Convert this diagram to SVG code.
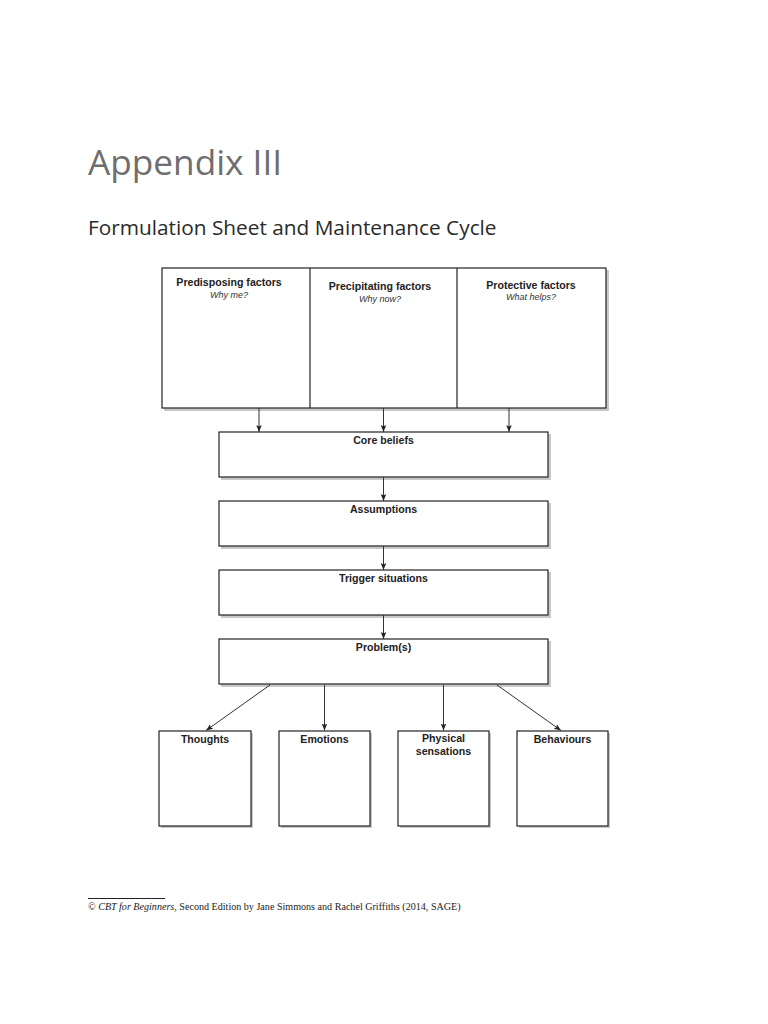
<svg xmlns="http://www.w3.org/2000/svg" width="768" height="1024" viewBox="0 0 768 1024">
<style>
.box{fill:#fff;stroke:#222;stroke-width:1.2}
.sh{fill:#c8c8c8}
.lbl{font-family:"Liberation Sans",Arial,sans-serif;font-weight:bold;font-size:10.6px;fill:#222;text-anchor:middle}
.sub{font-family:"Liberation Sans",Arial,sans-serif;font-style:italic;font-size:9px;fill:#333;text-anchor:middle}
.con{stroke:#333;stroke-width:1;fill:none;marker-end:url(#ah)}
</style>
<defs>
<marker id="ah" markerWidth="8" markerHeight="8" refX="7" refY="4" orient="auto" markerUnits="userSpaceOnUse">
<path d="M0,1.2 L7,4 L0,6.8 L1.5,4 Z" fill="#222"/>
</marker>
</defs>
<rect width="768" height="1024" fill="#fff"/>
<text x="88" y="175" font-family="'Open Sans','Noto Sans',sans-serif" font-size="35.2" fill="#6e6e6e">Appendix III</text>
<text x="88" y="235" font-family="'Open Sans','Noto Sans',sans-serif" font-size="20.8" fill="#2a2a2a">Formulation Sheet and Maintenance Cycle</text>

<g id="factors">
<rect class="sh" x="164" y="270" width="445" height="141"/>
<rect class="box" x="162" y="268" width="444" height="140"/>
<line x1="310" y1="268" x2="310" y2="408" stroke="#222" stroke-width="1.2"/>
<line x1="457" y1="268" x2="457" y2="408" stroke="#222" stroke-width="1.2"/>
</g>
<g id="predisposing">
<text class="lbl" x="229" y="286">Predisposing factors</text>
<text class="sub" x="229" y="298">Why me?</text>
</g>
<g id="precipitating">
<text class="lbl" x="380" y="290">Precipitating factors</text>
<text class="sub" x="380" y="302">Why now?</text>
</g>
<g id="protective">
<text class="lbl" x="531" y="289">Protective factors</text>
<text class="sub" x="531" y="300">What helps?</text>
</g>

<g id="core-beliefs">
<rect class="sh" x="221" y="434" width="330" height="46"/>
<rect class="box" x="219" y="432" width="329" height="45"/>
<text class="lbl" x="383.5" y="444">Core beliefs</text>
</g>
<g id="assumptions">
<rect class="sh" x="221" y="503" width="330" height="46"/>
<rect class="box" x="219" y="501" width="329" height="45"/>
<text class="lbl" x="383.5" y="513">Assumptions</text>
</g>
<g id="trigger">
<rect class="sh" x="221" y="572" width="330" height="46"/>
<rect class="box" x="219" y="570" width="329" height="45"/>
<text class="lbl" x="383.5" y="582">Trigger situations</text>
</g>
<g id="problems">
<rect class="sh" x="221" y="641" width="330" height="46"/>
<rect class="box" x="219" y="639" width="329" height="45"/>
<text class="lbl" x="383.5" y="651">Problem(s)</text>
</g>

<g id="thoughts">
<rect class="sh" x="161" y="733" width="92" height="95"/>
<rect class="box" x="159" y="731" width="92" height="95"/>
<text class="lbl" x="205" y="743">Thoughts</text>
</g>
<g id="emotions">
<rect class="sh" x="281" y="733" width="91" height="95"/>
<rect class="box" x="279" y="731" width="91" height="95"/>
<text class="lbl" x="324.5" y="743">Emotions</text>
</g>
<g id="physical">
<rect class="sh" x="400" y="733" width="91" height="95"/>
<rect class="box" x="398" y="731" width="91" height="95"/>
<text class="lbl" x="443.5" y="742">Physical</text>
<text class="lbl" x="443.5" y="755">sensations</text>
</g>
<g id="behaviours">
<rect class="sh" x="519" y="733" width="91" height="95"/>
<rect class="box" x="517" y="731" width="91" height="95"/>
<text class="lbl" x="562.5" y="743">Behaviours</text>
</g>

<g id="connectors">
<line class="con" x1="259" y1="408" x2="259" y2="432"/>
<line class="con" x1="383.5" y1="408" x2="383.5" y2="432"/>
<line class="con" x1="509" y1="408" x2="509" y2="432"/>
<line class="con" x1="383.5" y1="477" x2="383.5" y2="501"/>
<line class="con" x1="383.5" y1="546" x2="383.5" y2="570"/>
<line class="con" x1="383.5" y1="615" x2="383.5" y2="639"/>
<line class="con" x1="270" y1="685" x2="206" y2="730.5"/>
<line class="con" x1="324.5" y1="685" x2="324.5" y2="730.5"/>
<line class="con" x1="443.5" y1="685" x2="443.5" y2="730.5"/>
<line class="con" x1="497" y1="685" x2="561" y2="730.5"/>
</g>

<g id="footer">
<line x1="88" y1="898.5" x2="165" y2="898.5" stroke="#222" stroke-width="1"/>
<text x="88" y="910" font-family="'Liberation Serif','Times New Roman',serif" font-size="10.1" fill="#222">© <tspan font-style="italic">CBT for Beginners</tspan>, Second Edition by Jane Simmons and Rachel Griffiths (2014, SAGE)</text>
</g>
</svg>
